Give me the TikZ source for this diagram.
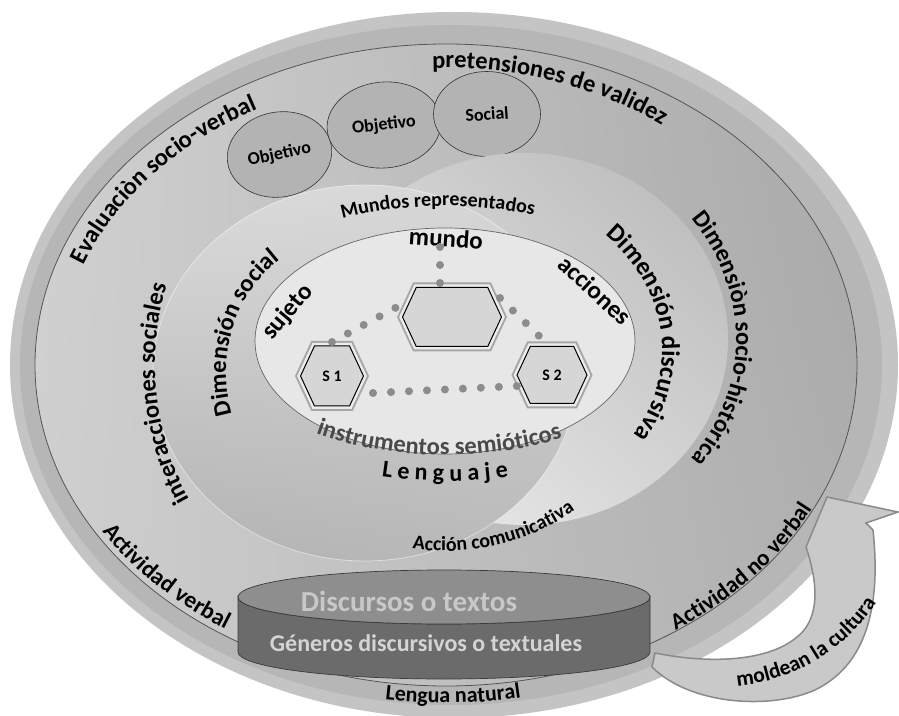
\documentclass[tikz,border=0pt]{standalone}
\usepackage{fontspec}
\setmainfont{Carlito}
\usetikzlibrary{shapes.geometric,shapes.symbols,shadings,decorations.text}

\definecolor{bandlight}{HTML}{C4C4C4}
\definecolor{banddark}{HTML}{B6B6B6}
\definecolor{ringline}{HTML}{555555}
\definecolor{ellfill}{HTML}{B3B3B3}
\definecolor{corefill}{HTML}{E7E7E7}
\definecolor{hexfill}{HTML}{D6D6D6}
\definecolor{dotgray}{HTML}{8C8C8C}
\definecolor{cyltop}{HTML}{8E8E8E}
\definecolor{cylside}{HTML}{6B6B6B}
\definecolor{cylline}{HTML}{3A3A3A}
\definecolor{cyltexta}{HTML}{C8C8C8}
\definecolor{cyltextb}{HTML}{D4D4D4}
\definecolor{arrowfill}{HTML}{C9C9C9}
\definecolor{arrowline}{HTML}{8A8A8A}
\definecolor{semiotic}{HTML}{4A4A4A}

\newcommand\ringfont{\bfseries\fontsize{24.5}{26}\selectfont}
\newcommand\midfont{\bfseries\fontsize{20}{22}\selectfont}

\tikzset{
  smallell/.style={ellipse, draw=black!80, line width=0.6pt, fill=ellfill, inner sep=0pt, font=\bfseries\fontsize{18}{18}\selectfont},
  hexnode/.style={signal, signal to=east and west, signal pointer angle=130, fill=hexfill, draw=black, line width=1pt, preaction={draw=gray!70, line width=10pt}, preaction={draw=gray!15, line width=6pt}, inner sep=0pt, font=\bfseries\fontsize{16}{16}\selectfont},
  dotline/.style={draw=dotgray, line width=8pt, line cap=round, dash pattern=on 0pt off 18pt},
  bigword/.style={font=\bfseries\fontsize{25}{25}\selectfont, inner sep=0pt},
}

\begin{document}
\begin{tikzpicture}[x=1pt, y=1pt]
	\useasboundingbox[fill=white] (0,0) rectangle (899,715);

	% outer ring
	\fill[bandlight] (454,350) ellipse[x radius=444, y radius=353];
	\fill[banddark] (451,350) ellipse[x radius=431, y radius=340];

	% curved arrow
	\filldraw[fill=arrowfill, draw=arrowline, line width=1.5pt] (652,48) .. controls (690,10) and (770,5) .. (815,25) .. controls (862,48) and (882,100) .. (873,185) -- (866,192) -- (898,203) -- (827,218) -- (806,168) .. controls (822,120) and (815,92) .. (797,78) .. controls (770,55) and (715,50) .. (655,62) -- cycle;
	\path[decorate, decoration={text along path, text align=center, text={|\bfseries\fontsize{21.5}{22}\selectfont|moldean la cultura}}] ([shift={(-95:187)}]720,215) arc[start angle=-95, end angle=-23, radius=187];

	% socio-historical area
	\shade[upper left=gray!36, upper right=gray!68, lower left=gray!38, lower right=gray!62] (446,350) ellipse[x radius=411, y radius=321];
	\draw[ringline, line width=0.8pt] (446,350) ellipse[x radius=411, y radius=321];

	% validity claims
	\node[smallell, minimum width=105, minimum height=85, rotate=10](objA) at (279.5,560.5){};
	\node[smallell, minimum width=114, minimum height=86, rotate=5](objB) at (384,590){};
	\node[smallell, minimum width=107, minimum height=85](socC) at (487,601){};
	\node[rotate=12, font=\bfseries\fontsize{18}{18}\selectfont] (objAtxt) at (objA) {Objetivo};
	\node[rotate=7, font=\bfseries\fontsize{18}{18}\selectfont] (objBtxt) at (objB) {Objetivo};
	\node[rotate=4, font=\bfseries\fontsize{18}{18}\selectfont] (socCtxt) at (socC) {Social};

	% discursive and social dimensions
	\shade[upper left=gray!34, upper right=gray!56, lower left=gray!12, lower right=gray!34] (524,376) ellipse[x radius=204, y radius=186];
	\shade[upper left=gray!28, upper right=gray!32, lower left=gray!60, lower right=gray!54] (365,342) ellipse[x radius=212, y radius=188];
	\draw[white, opacity=0.5, line width=0.8pt] (365,342) ellipse[x radius=212, y radius=188];

	% core
	\filldraw[fill=corefill, draw=black!60, line width=0.7pt] (445,374) ellipse[x radius=190, y radius=113];

	% hexagons
	\node[hexnode, minimum width=99, minimum height=59](mundohex) at (452,398){};
	\node[hexnode, minimum width=63, minimum height=60](s1) at (332,339){S 1};
	\node[hexnode, minimum width=70, minimum height=57](s2) at (552,340){S 2};
	\node[bigword, rotate=-4](mundo) at (446,477){mundo};
	\node[bigword, rotate=50](sujeto) at (288,403){sujeto};
	\node[bigword, rotate=-43](acciones) at (595,425){acciones};

	\draw[dotline] ([shift={(-6,-9)}]mundo.center) -- ([shift={(-12,33.5)}]mundohex.center);
	\draw[dotline] ([shift={(0,34)}]s1.center) -- ([shift={(-56.1,9.4)}]mundohex.center);
	\draw[dotline] ([shift={(48,19)}]mundohex.center) -- ([shift={(-12.9,39)}]s2.center);
	\draw[dotline] ([shift={(41,-17)}]s1.center) -- ([shift={(-34.7,-11)}]s2.center);

	% texts discs
	\filldraw[fill=cylside, draw=cylline, line width=0.7pt] (238,118) -- (238,63) arc[start angle=180, end angle=360, x radius=206, y radius=27] -- (650,118) arc[start angle=0, end angle=-180, x radius=206, y radius=27] -- cycle;
	\filldraw[fill=cyltop, draw=cylline, line width=0.7pt] (444,118) ellipse[x radius=206, y radius=27];
	\node[text=cyltexta, font=\bfseries\fontsize{29}{29}\selectfont](discursos) at (409,114){Discursos o textos};
	\node[text=cyltextb, font=\bfseries\fontsize{24}{24}\selectfont](generos) at (426,72){Géneros discursivos o textuales};

	% curved labels
	\path[decorate, decoration={text along path, text align=center, text={|\ringfont|pretensiones de validez}}] ([shift={(112:365 and 297)}]446,350) arc[start angle=112, end angle=32, x radius=365, y radius=297];
	\path[decorate, decoration={text along path, text align=center, text={|\ringfont|Evaluaciòn socio-verbal}}] ([shift={(182:385 and 293)}]446,350) arc[start angle=182, end angle=102, x radius=385, y radius=293];
	\path[decorate, decoration={text along path, text align=center, text={|\ringfont|Dimensiòn socio-histórica}}] ([shift={(60:212 and 195)}]524,376) arc[start angle=60, end angle=-60, x radius=212, y radius=195];
	\path[decorate, decoration={text along path, text align=center, text={|\bfseries\fontsize{25.5}{26}\selectfont|Dimensión discursiva}}] ([shift={(62:192 and 162)}]470,365) arc[start angle=62, end angle=-49, x radius=192, y radius=162];
	\path[decorate, decoration={text along path, text align=center, text={|\ringfont|Dimensión social}}] ([shift={(205:139 and 143)}]365,342) arc[start angle=205, end angle=119, x radius=139, y radius=143];
	\path[decorate, decoration={text along path, text align=center, text={|\ringfont|interacciones sociales}}] ([shift={(216:291 and 283)}]446,350) arc[start angle=216, end angle=156, x radius=291, y radius=283];
	\path[decorate, decoration={text along path, text align=center, text={|\midfont|Mundos representados}}] ([shift={(130:240 and 135)}]445,374) arc[start angle=130, end angle=54, x radius=240, y radius=135];
	\path[decorate, decoration={text along path, text align=center, text={|\ringfont\color{semiotic}|instrumentos semióticos}}] ([shift={(225:222 and 114)}]445,374) arc[start angle=225, end angle=311, x radius=222, y radius=114];
	\path[decorate, decoration={text along path, text align=center, text={|\bfseries\fontsize{24}{24}\selectfont|L e n g u a j e}}] ([shift={(240:250 and 140)}]445,374) arc[start angle=240, end angle=300, x radius=250, y radius=140];
	\path[decorate, decoration={text along path, text align=center, text={|\midfont|Acción comunicativa}}] ([shift={(244:220 and 210)}]445,374) arc[start angle=244, end angle=324, x radius=220, y radius=210];
	\path[decorate, decoration={text along path, text align=center, text={|\bfseries\fontsize{23.5}{24}\selectfont|Actividad verbal}}] ([shift={(193:405 and 315)}]446,350) arc[start angle=193, end angle=253, x radius=405, y radius=315];
	\path[decorate, decoration={text along path, text align=center, text={|\bfseries\fontsize{23}{24}\selectfont|Actividad no verbal}}] ([shift={(-70:410 and 320)}]446,350) arc[start angle=-70, end angle=-10, x radius=410, y radius=320];
	\path[decorate, decoration={text along path, text align=center, text={|\bfseries\fontsize{22}{22}\selectfont|Lengua natural}}] ([shift={(250:420 and 338)}]446,350) arc[start angle=250, end angle=292, x radius=420, y radius=338];
\end{tikzpicture}
\end{document}
